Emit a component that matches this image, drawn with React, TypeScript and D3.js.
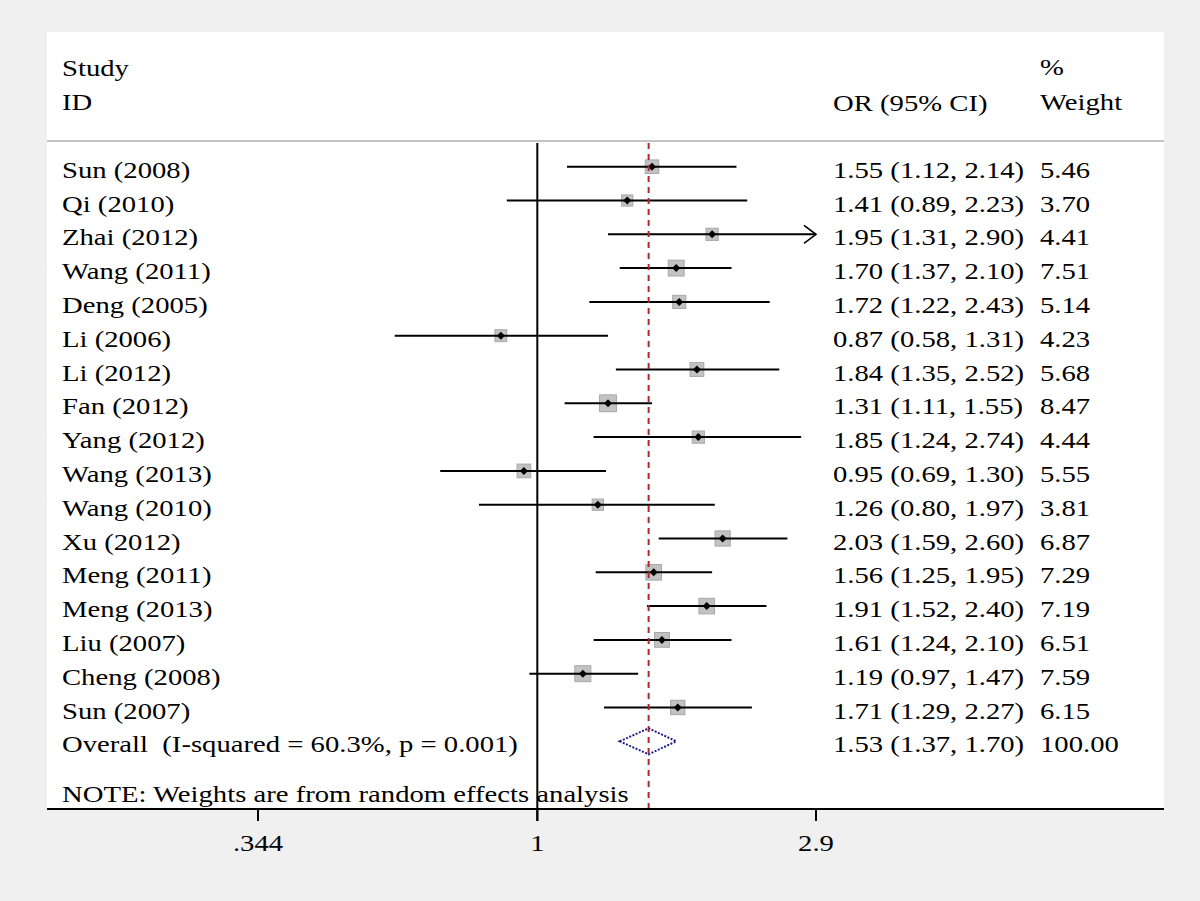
import React from "react";
import * as d3 from "d3";

const studies = [
  "Sun (2008)", "Qi (2010)", "Zhai (2012)", "Wang (2011)", "Deng (2005)", "Li (2006)",
  "Li (2012)", "Fan (2012)", "Yang (2012)", "Wang (2013)", "Wang (2010)", "Xu (2012)",
  "Meng (2011)", "Meng (2013)", "Liu (2007)", "Cheng (2008)", "Sun (2007)",
];
const orValues = [1.55, 1.41, 1.95, 1.70, 1.72, 0.87, 1.84, 1.31, 1.85, 0.95, 1.26, 2.03, 1.56, 1.91, 1.61, 1.19, 1.71];
const ciLow = [1.12, 0.89, 1.31, 1.37, 1.22, 0.58, 1.35, 1.11, 1.24, 0.69, 0.80, 1.59, 1.25, 1.52, 1.24, 0.97, 1.29];
const ciHigh = [2.14, 2.23, 2.90, 2.10, 2.43, 1.31, 2.52, 1.55, 2.74, 1.30, 1.97, 2.60, 1.95, 2.40, 2.10, 1.47, 2.27];
const weights = [5.46, 3.70, 4.41, 7.51, 5.14, 4.23, 5.68, 8.47, 4.44, 5.55, 3.81, 6.87, 7.29, 7.19, 6.51, 7.59, 6.15];
const overall = { label: "Overall  (I-squared = 60.3%, p = 0.001)", or: 1.53, lo: 1.37, hi: 1.70, weight: 100.0 };
const tickValues = [0.344, 1, 2.9];
const tickLabels = [".344", "1", "2.9"];
const noteText = "NOTE: Weights are from random effects analysis";

const FONT = "'Liberation Serif', 'Times New Roman', serif";
const FS = 22.5;
const SX = 1.275;

function T({ x, y, children, anchor = "start" }: { x: number; y: number; children: React.ReactNode; anchor?: string }) {
  return (
    <text
      transform={`translate(${x},${y}) scale(${SX},1)`}
      fontFamily={FONT}
      fontSize={FS}
      fill="#000"
      textAnchor={anchor as any}
      style={{ whiteSpace: "pre" }}
    >
      {children}
    </text>
  );
}

export default function App() {
  const W = 1200, H = 901;
  const panel = { x0: 47, x1: 1164, y0: 32, y1: 809 };
  const x = d3.scaleLog().domain([0.344, 2.9]).range([258, 816]);
  const row0 = 166.7, rowStep = 33.8;
  const y = (i: number) => row0 + rowStep * i;
  const xMax = 2.9;
  const fmt = d3.format(".2f");
  const orText = (o: number, l: number, h: number) => `${fmt(o)} (${fmt(l)}, ${fmt(h)})`;
  const k = 5.8;
  const colOR = 833, colW = 1040, colStudy = 62;
  const oy = y(studies.length);
  const lineTop = 143;

  return (
    <svg width={W} height={H} style={{ position: "absolute", left: 0, top: 0, display: "block" }}>
      <rect x={0} y={0} width={W} height={H} fill="#f0f0f0" />
      <rect x={panel.x0} y={panel.y0} width={panel.x1 - panel.x0} height={panel.y1 - panel.y0} fill="#ffffff" />

      {/* header */}
      <T x={colStudy} y={76}>Study</T>
      <T x={colStudy} y={110}>ID</T>
      <T x={colOR} y={111}>OR (95% CI)</T>
      <T x={colW} y={75}>%</T>
      <T x={colW} y={110}>Weight</T>
      <line x1={panel.x0} x2={panel.x1} y1={141} y2={141} stroke="#c4c4c4" strokeWidth={2} />

      {/* null line */}
      <line x1={x(1)} x2={x(1)} y1={lineTop} y2={panel.y1 + 12} stroke="#000" strokeWidth={2} />

      {/* studies */}
      {studies.map((s, i) => {
        const cy = y(i);
        const cx = x(orValues[i]);
        const side = k * Math.sqrt(weights[i]);
        const clipped = ciHigh[i] >= xMax;
        const xr = clipped ? x(xMax) : x(ciHigh[i]);
        return (
          <g key={i}>
            <rect x={cx - side / 2} y={cy - side / 2} width={side} height={side} fill="#c2c2c2" stroke="#a8a8a8" strokeWidth={1} />
            <line x1={x(ciLow[i])} x2={xr} y1={cy} y2={cy} stroke="#000" strokeWidth={2} />
            {clipped && (
              <polyline points={`${xr - 12},${cy - 9} ${xr},${cy} ${xr - 12},${cy + 9}`} fill="none" stroke="#000" strokeWidth={1.6} />
            )}
            <path d={`M${cx - 4},${cy} L${cx},${cy - 4} L${cx + 4},${cy} L${cx},${cy + 4} Z`} fill="#000" />
            <T x={colStudy} y={cy + 11}>{s}</T>
            <T x={colOR} y={cy + 11}>{orText(orValues[i], ciLow[i], ciHigh[i])}</T>
            <T x={colW} y={cy + 11}>{fmt(weights[i])}</T>
          </g>
        );
      })}

      {/* overall */}
      <path
        d={`M${x(overall.lo)},${oy} L${x(overall.or)},${oy - 13} L${x(overall.hi)},${oy} L${x(overall.or)},${oy + 13} Z`}
        fill="none"
        stroke="#1f1f8a"
        strokeWidth={2}
        strokeDasharray="2,1.5"
      />
      <T x={colStudy} y={oy + 11}>{overall.label}</T>
      <T x={colOR} y={oy + 11}>{orText(overall.or, overall.lo, overall.hi)}</T>
      <T x={colW} y={oy + 11}>{fmt(overall.weight)}</T>

      {/* pooled estimate line */}
      <line x1={x(overall.or)} x2={x(overall.or)} y1={lineTop} y2={panel.y1} stroke="#b5262b" strokeWidth={2} strokeDasharray="6,5" />

      <T x={colStudy} y={802}>{noteText}</T>

      {/* axis */}
      <line x1={panel.x0} x2={panel.x1} y1={panel.y1} y2={panel.y1} stroke="#000" strokeWidth={2} />
      {tickValues.map((v, i) => (
        <g key={v}>
          <line x1={x(v)} x2={x(v)} y1={panel.y1} y2={panel.y1 + 12} stroke="#000" strokeWidth={2} />
          <T x={x(v)} y={851} anchor="middle">{tickLabels[i]}</T>
        </g>
      ))}
    </svg>
  );
}
